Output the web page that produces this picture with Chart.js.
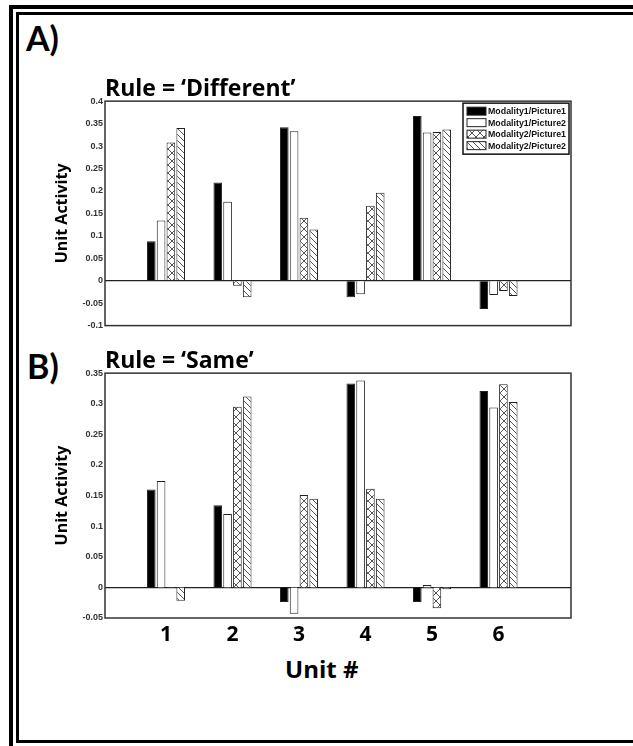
<!DOCTYPE html>
<html>
<head>
<meta charset="utf-8">
<script src="https://cdn.jsdelivr.net/npm/chart.js@4/dist/chart.umd.min.js"></script>
<style>
  html, body { margin: 0; padding: 0; background: #fff; overflow: hidden; }
  body { width: 633px; height: 746px; position: relative; font-family: Lato, sans-serif; }
  .frame { position: absolute; border: 4px solid #000; }
  .outer { left: 9px; top: 5px; width: 700px; height: 800px; }
  .inner { left: 16px; top: 12px; width: 700px; height: 725px; border-width: 3px; }
  .panel { position: absolute; font: bold 34px Lato, sans-serif; line-height: 34px; color: #000; }
  .xtitle { position: absolute; font: bold 24px "Open Sans", sans-serif; line-height: 24px; color: #000; }
  canvas { position: absolute; left: 0; }
</style>
</head>
<body>
<div class="frame outer"></div>
<div class="frame inner"></div>
<div class="panel" style="left:26px; top:21px;">A)</div>
<div class="panel" style="left:27px; top:349px;">B)</div>
<div class="xtitle" style="left:285px; top:657px;">Unit #</div>

<div style="position:absolute; left:0; top:77px; width:633px; height:256px;">
  <canvas id="chartA"></canvas>
</div>
<div style="position:absolute; left:0; top:349px; width:633px; height:299px;">
  <canvas id="chartB"></canvas>
</div>

<script>
const units = [1, 2, 3, 4, 5, 6];
const seriesLabels = ["Modality1/Picture1", "Modality1/Picture2", "Modality2/Picture1", "Modality2/Picture2"];

// Rule = 'Different'
const diffM1P1 = [0.088, 0.219, 0.342, -0.037, 0.367, -0.063];
const diffM1P2 = [0.134, 0.176, 0.333, -0.030, 0.330, -0.032];
const diffM2P1 = [0.308, -0.011, 0.140, 0.167, 0.331, -0.023];
const diffM2P2 = [0.340, -0.037, 0.114, 0.196, 0.337, -0.034];

// Rule = 'Same'
const sameM1P1 = [0.160, 0.134, -0.024, 0.333, -0.024, 0.321];
const sameM1P2 = [0.174, 0.120, -0.043, 0.338, 0.004, 0.294];
const sameM2P1 = [-0.001, 0.295, 0.151, 0.161, -0.034, 0.332];
const sameM2P2 = [-0.022, 0.312, 0.145, 0.145, -0.003, 0.303];

const diffYMin = -0.1, diffYMax = 0.4;
const sameYMin = -0.05, sameYMax = 0.35;
const yStep = 0.05;

function makePattern(size, cross) {
  const c = document.createElement("canvas");
  c.width = size;
  c.height = size;
  const g = c.getContext("2d");
  g.fillStyle = "#fff";
  g.fillRect(0, 0, size, size);
  g.strokeStyle = "#555";
  g.lineWidth = 1;
  g.beginPath();
  g.moveTo(-1, -1);
  g.lineTo(size + 1, size + 1);
  if (cross) {
    g.moveTo(size + 1, -1);
    g.lineTo(-1, size + 1);
  }
  g.stroke();
  return g.createPattern(c, "repeat");
}

const crossFill = makePattern(8, true);
const diagFill = makePattern(6, false);
const fills = ["#000", "#fff", crossFill, diagFill];

function makeDatasets(seriesList) {
  return seriesList.map((vals, i) => ({
    label: seriesLabels[i],
    data: units.map((u, j) => ({ x: u, y: vals[j] })),
    backgroundColor: fills[i],
    borderColor: "#222",
    borderWidth: 1,
    categoryPercentage: 0.59,
    barPercentage: 0.88,
  }));
}

// frame around the plot area
const boxPlugin = {
  id: "plotBox",
  afterDraw(chart) {
    const { ctx, chartArea: a } = chart;
    ctx.save();
    ctx.strokeStyle = "#333";
    ctx.lineWidth = 1.5;
    ctx.strokeRect(a.left, a.top, a.right - a.left, a.bottom - a.top);
    ctx.restore();
  },
};

// legend box inside the top-right corner
const insideLegend = {
  id: "insideLegend",
  afterDraw(chart) {
    const { ctx, chartArea: a } = chart;
    const w = 106, h = 51;
    const left = a.right - 2 - w, top = a.top + 2;
    ctx.save();
    ctx.fillStyle = "#fff";
    ctx.fillRect(left, top, w, h);
    ctx.strokeStyle = "#111";
    ctx.lineWidth = 1.5;
    ctx.strokeRect(left, top, w, h);
    ctx.font = "bold 9px 'Liberation Sans', Arial, sans-serif";
    ctx.textBaseline = "middle";
    chart.data.datasets.forEach((ds, i) => {
      const y = top + 4 + i * 11.5;
      ctx.fillStyle = ds.backgroundColor;
      ctx.fillRect(left + 4, y, 19, 8);
      ctx.strokeStyle = "#222";
      ctx.lineWidth = 1;
      ctx.strokeRect(left + 4, y, 19, 8);
      ctx.fillStyle = "#111";
      ctx.fillText(ds.label, left + 25, y + 4.5, 78);
    });
    ctx.restore();
  },
};

function buildOptions(titleText, yMin, yMax, showX) {
  return {
    responsive: true,
    maintainAspectRatio: false,
    animation: false,
    layout: { padding: { left: 0, right: 62, top: 0, bottom: 0 } },
    plugins: {
      legend: { display: false },
      tooltip: { enabled: false },
      title: {
        display: true,
        text: titleText,
        align: "start",
        fullSize: false,
        color: "#000",
        font: { family: "Open Sans", size: 23, weight: "bold", lineHeight: 1.05 },
        padding: { top: 0, bottom: 0 },
      },
    },
    scales: {
      x: {
        type: "linear",
        min: 0.083,
        max: 7.09,
        offset: false,
        display: showX,
        afterBuildTicks: (s) => { s.ticks = units.map((v) => ({ value: v })); },
        afterFit: (s) => { if (showX) s.height = 30; },
        grid: { display: false, drawTicks: false },
        border: { display: false },
        ticks: {
          padding: 4,
          color: "#000",
          font: { family: "Open Sans", size: 21, weight: "bold" },
          callback: (v) => String(v),
        },
      },
      y: {
        min: yMin,
        max: yMax,
        afterFit: (s) => { s.width = 105; },
        border: { display: false },
        grid: {
          drawTicks: false,
          lineWidth: 1.3,
          color: (c) => (c.tick && Math.abs(c.tick.value) < 1e-9 ? "#222" : "rgba(0,0,0,0)"),
        },
        ticks: {
          stepSize: yStep,
          padding: 2,
          color: "#333",
          font: { family: "Liberation Sans", size: 9, weight: "bold" },
          callback: (v) => String(+v.toFixed(2)),
        },
        title: {
          display: true,
          text: "Unit Activity",
          color: "#000",
          font: { family: "Open Sans", size: 16, weight: "bold" },
          padding: { top: 53, bottom: 0 },
        },
      },
    },
  };
}

new Chart(document.getElementById("chartA"), {
  type: "bar",
  data: { datasets: makeDatasets([diffM1P1, diffM1P2, diffM2P1, diffM2P2]) },
  options: buildOptions("Rule = \u2018Different\u2019", diffYMin, diffYMax, false),
  plugins: [boxPlugin, insideLegend],
});

new Chart(document.getElementById("chartB"), {
  type: "bar",
  data: { datasets: makeDatasets([sameM1P1, sameM1P2, sameM2P1, sameM2P2]) },
  options: buildOptions("Rule = \u2018Same\u2019", sameYMin, sameYMax, true),
  plugins: [boxPlugin],
});
</script>
</body>
</html>
